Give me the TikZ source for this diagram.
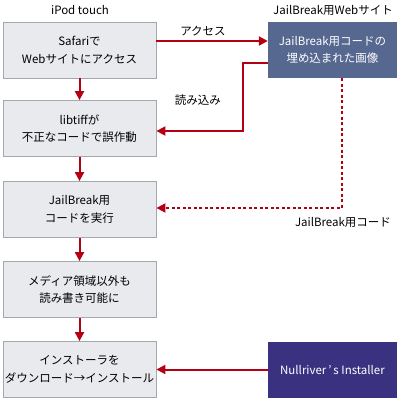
\documentclass[tikz,border=0pt]{standalone}
\usepackage{fontspec}
\setmainfont{Noto Sans CJK JP}
\usetikzlibrary{arrows.meta}
\definecolor{redline}{RGB}{180,0,20}
\definecolor{boxfill}{RGB}{232,234,238}
\definecolor{boxedge}{RGB}{165,168,172}
\definecolor{webbox}{RGB}{86,104,143}
\definecolor{nullbox}{RGB}{58,50,128}
\tikzset{
  leftbox/.style={draw=boxedge, line width=0.8pt, fill=boxfill, minimum width=153pt, minimum height=56pt, inner sep=0pt, align=center, font=\fontsize{11.5}{17.5}\selectfont},
  darkbox/.style={fill=#1, draw=none, minimum width=129pt, minimum height=56pt, inner sep=0pt, align=center, text=white, font=\fontsize{11.5}{17.5}\selectfont},
  lbl/.style={font=\fontsize{11.5}{14}\selectfont, inner sep=0pt},
  flow/.style={draw=redline, line width=2pt, -{Triangle[length=9pt,width=9pt]}},
  dotflow/.style={flow, dash pattern=on 3pt off 2.5pt}
}
\begin{document}
\begin{tikzpicture}[x=1pt,y=-1pt]
\useasboundingbox (0,0) rectangle (400,400);
\node[lbl] (h1) at (80,10) {iPod touch};
\node[lbl] (h2) at (333,10) {JailBreak用Webサイト};
\node[leftbox] (b1) at (79.5,50) {Safariで\\Webサイトにアクセス};
\node[leftbox] (b2) at (79.5,128.5) {libtiffが\\不正なコードで誤作動};
\node[leftbox] (b3) at (79.5,209.5) {JailBreak用\\コードを実行};
\node[leftbox] (b4) at (79.5,289.5) {メディア領域以外も\\読み書き可能に};
\node[leftbox] (b5) at (79.5,369.5) {インストーラを\\ダウンロード→インストール};
\node[darkbox=webbox] (w) at (332.5,50) {JailBreak用コードの\\埋め込まれた画像};
\node[darkbox=nullbox] (n) at (332.5,369.5) {Nullriver\,’\,s Installer};
\coordinate (c1) at (243,63);
\coordinate (c2) at (243,131);
\coordinate (d1) at (342,208);
\draw[flow] (b1.east |- 0,41) -- (w.west |- 0,41);
\draw[flow] (w.west |- c1) -- (c1) -- (c2) -- (b2.east |- c2);
\draw[dotflow] (w.south -| d1) -- (d1) -- (b3.east |- d1);
\draw[flow] (b1.south) -- (b2.north);
\draw[flow] (b2.south) -- (b3.north);
\draw[flow] (b3.south) -- (b4.north);
\draw[flow] (b4.south) -- (b5.north);
\draw[flow] (n.west) -- (b5.east);
\node[lbl] (l1) at (203,31) {アクセス};
\node[lbl] (l2) at (198,100) {読み込み};
\node[lbl] (l3) at (343,222) {JailBreak用コード};
\end{tikzpicture}
\end{document}
